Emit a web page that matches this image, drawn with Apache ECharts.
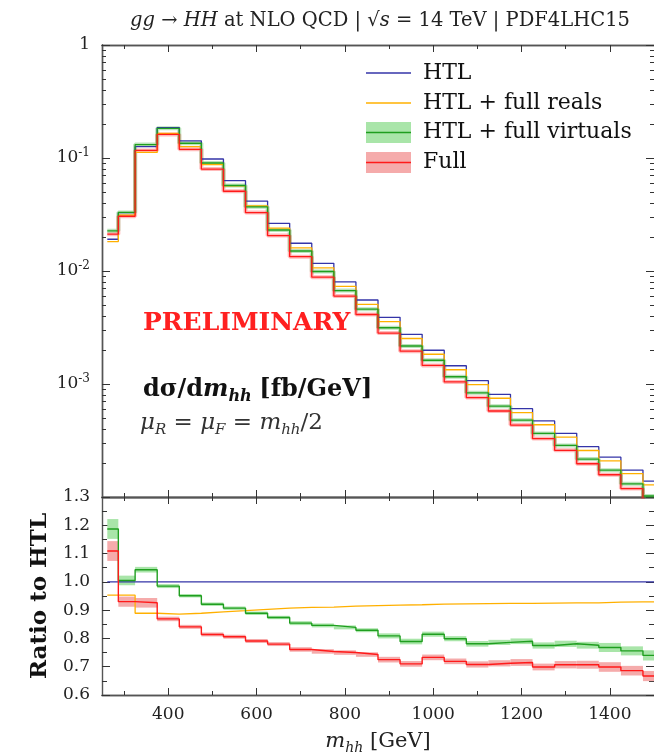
<!DOCTYPE html>
<html><head><meta charset="utf-8">
<script src="https://cdn.jsdelivr.net/npm/echarts@6/dist/echarts.min.js"></script>
<style>html,body{margin:0;padding:0;background:#fff}#c{width:654px;height:756px}</style>
</head><body><div id="c"></div>
<script>
// ---------------- data ----------------
const binEdges = [262,287,325,375,425,475,525,575,625,675,725,775,825,875,925,975,1025,1075,1125,1175,1225,1275,1325,1375,1425,1475,1525];
const htl = [0.0191,0.0328,0.126,0.186,0.142,0.098,0.063,0.0416,0.0264,0.0176,0.0117,0.0080,0.00554,0.00389,0.00275,0.00199,0.00145,0.00107,0.00081,0.000605,0.000471,0.000366,0.000279,0.000225,0.000173,0.000138];
const htlReals = [0.0182,0.03126,0.1120,0.1648,0.1262,0.0876,0.0566,0.0376,0.02394,0.01602,0.01066,0.00731,0.00507,0.00357,0.002527,0.001833,0.001337,0.000988,0.000748,0.000559,0.000436,0.000339,0.000258,0.000209,0.0001607,0.0001282];
const htlVirtuals = [0.02267,0.03296,0.1314,0.1832,0.1350,0.0903,0.0571,0.0370,0.02307,0.01503,0.00990,0.00671,0.00459,0.003147,0.002170,0.001622,0.001159,0.000836,0.000637,0.000478,0.000365,0.000286,0.0002165,0.0001728,0.0001308,0.0001021];
const full = [0.02118,0.03050,0.1167,0.1616,0.1194,0.0798,0.0508,0.0329,0.02059,0.01339,0.00882,0.00600,0.00412,0.00282,0.001953,0.001459,0.001043,0.000758,0.000577,0.000433,0.000329,0.000259,0.000197,0.0001573,0.0001187,0.0000920];

const ratioHTL = [1,1,1,1,1,1,1,1,1,1,1,1,1,1,1,1,1,1,1,1,1,1,1,1,1,1];
const ratioReals = [0.953,0.953,0.889,0.886,0.889,0.894,0.898,0.903,0.907,0.910,0.911,0.914,0.916,0.918,0.919,0.921,0.922,0.923,0.924,0.924,0.925,0.926,0.926,0.928,0.929,0.929];
const ratioVirtuals = [1.187,1.005,1.043,0.985,0.951,0.921,0.907,0.889,0.874,0.854,0.846,0.839,0.829,0.809,0.789,0.815,0.799,0.781,0.786,0.790,0.775,0.781,0.776,0.768,0.756,0.740];
const ratioFull = [1.109,0.930,0.926,0.869,0.841,0.814,0.806,0.791,0.780,0.761,0.754,0.750,0.743,0.725,0.710,0.733,0.719,0.708,0.712,0.715,0.699,0.707,0.707,0.699,0.686,0.667];
const virtualsErr = [0.035,0.017,0.010,0.007,0.006,0.006,0.006,0.006,0.006,0.007,0.007,0.007,0.007,0.009,0.010,0.009,0.009,0.010,0.009,0.010,0.011,0.011,0.012,0.016,0.016,0.018];
const fullErr = [0.035,0.018,0.017,0.008,0.007,0.007,0.007,0.007,0.007,0.008,0.008,0.008,0.008,0.010,0.010,0.010,0.010,0.011,0.011,0.012,0.012,0.013,0.014,0.017,0.017,0.018];

// tick values / labels
const xMajorTicks = [400,600,800,1000,1200,1400];
const xMinorTicks = [300,500,700,900,1100,1300,1500];
const logMajorTicks = [1e-4,1e-3,1e-2,1e-1,1];
const logLabelTicks = [1e-3,1e-2,1e-1,1];
const logMinorMultipliers = [2,3,4,5,6,7,8,9];
const logDecades = [1e-4,1e-3,1e-2,1e-1];

// ---------------- styling ----------------
const F = '"DejaVu Serif", serif';
const C = {blue:'#3434a8', orange:'#ffb000', green:'#1f9e1f', greenBand:'#a9e5a9', red:'#ff1a1a', redBand:'#f5abab'};
const AX = {color:'#555', width:1.4};
const TK = {color:'#333', width:1};

const logMinorTicks = [];
logDecades.forEach(d => logMinorMultipliers.forEach(m => logMinorTicks.push(m*d)));

function steps(vals){
  const d = [];
  vals.forEach((v,i) => { d.push([binEdges[i], v]); d.push([binEdges[i+1], v]); });
  return d;
}
function stepLine(name, vals, color, width, xi, yi, z, opacity){
  return {type:'line', name, data:steps(vals), xAxisIndex:xi, yAxisIndex:yi, symbol:'none',
    clip:true, silent:true, z:z||3, animation:false,
    lineStyle:{color, width, opacity: opacity==null?1:opacity}};
}
function band(center, err, color, xi, yi){
  return {type:'custom', xAxisIndex:xi, yAxisIndex:yi, silent:true, z:1, animation:false,
    data: center.map((c,i) => [binEdges[i], binEdges[i+1], c-err[i], c+err[i]]),
    encode:{x:[0,1], y:[2,3]},
    renderItem(params, api){
      const p0 = api.coord([api.value(0), api.value(3)]);
      const p1 = api.coord([api.value(1), api.value(2)]);
      const cs = params.coordSys;
      const r = echarts.graphic.clipRectByRect(
        {x:p0[0], y:p0[1], width:p1[0]-p0[0], height:p1[1]-p0[1]},
        {x:cs.x, y:cs.y, width:cs.width, height:cs.height});
      if (!r) return;
      return {type:'rect', shape:r, style:{fill:color}};
    }};
}
function xa(grid, pos, ticks, len, extra){
  return Object.assign({type:'value', gridIndex:grid, position:pos, min:250, max:1500,
    axisLine:{show:true, onZero:false, lineStyle:AX},
    axisTick:{show:true, inside:true, length:len, customValues:ticks, lineStyle:TK},
    axisLabel:{show:false}, splitLine:{show:false}}, extra||{});
}
function ya(grid, pos, type, extra){
  const base = {type, gridIndex:grid, position:pos,
    axisLine:{show:true, onZero:false, lineStyle:AX},
    axisLabel:{show:false}, splitLine:{show:false}};
  return Object.assign(base, extra);
}

const labelRich = {
  b:{fontFamily:F, fontSize:17, color:'#222', lineHeight:22},
  s:{fontFamily:F, fontSize:12, color:'#222', lineHeight:11, verticalAlign:'top'}
};

const option = {
  animation:false,
  backgroundColor:'#fff',
  grid:[{left:102, right:0, top:45, height:452}, {left:102, right:0, top:497, height:200}],
  xAxis:[
    xa(0,'bottom',xMajorTicks,7),
    xa(0,'bottom',xMinorTicks,4),
    xa(0,'top',xMajorTicks,7),
    xa(0,'top',xMinorTicks,4),
    xa(1,'bottom',xMajorTicks,7,{
      axisLabel:{show:true, customValues:xMajorTicks, fontFamily:F, fontSize:17, color:'#222', margin:11,
        formatter: v => String(v)},
      name:'{i|m}{s|hh} [GeV]', nameLocation:'middle', nameGap:34,
      nameTextStyle:{fontFamily:F, fontSize:21, color:'#222', lineHeight:26,
        rich:{i:{fontFamily:F, fontSize:21, fontStyle:'italic', color:'#222', lineHeight:26},
              s:{fontFamily:F, fontSize:14, fontStyle:'italic', color:'#222', lineHeight:13, verticalAlign:'bottom'}}}
    }),
    xa(1,'bottom',xMinorTicks,4),
    xa(1,'top',xMajorTicks,7),
    xa(1,'top',xMinorTicks,4)
  ],
  yAxis:[
    ya(0,'left','log',{min:1e-4, max:1, logBase:10,
      axisTick:{show:true, inside:true, length:8, customValues:logMajorTicks, lineStyle:TK},
      axisLabel:{show:true, customValues:logLabelTicks, margin:12, fontFamily:F, fontSize:17, color:'#222',
        formatter: v => (Math.abs(v-1)<1e-9 ? '{b|1}' : '{b|10}{s|' + Math.round(Math.log10(v)) + '}'),
        rich:labelRich}}),
    ya(0,'left','log',{min:1e-4, max:1, logBase:10,
      axisTick:{show:true, inside:true, length:4, customValues:logMinorTicks, lineStyle:TK}}),
    ya(0,'right','log',{min:1e-4, max:1, logBase:10, axisLine:{show:false},
      axisTick:{show:true, inside:true, length:8, customValues:logMajorTicks, lineStyle:TK}}),
    ya(0,'right','log',{min:1e-4, max:1, logBase:10, axisLine:{show:false},
      axisTick:{show:true, inside:true, length:4, customValues:logMinorTicks, lineStyle:TK}}),
    ya(1,'left','value',{min:0.6, max:1.3, interval:0.1,
      axisTick:{show:true, inside:true, length:8, lineStyle:TK},
      minorTick:{show:true, splitNumber:2, length:5, lineStyle:TK},
      axisLabel:{show:true, margin:12, fontFamily:F, fontSize:17, color:'#222', formatter: v => v.toFixed(1)},
      name:'Ratio to HTL', nameLocation:'middle', nameGap:50, nameRotate:90,
      nameTextStyle:{fontFamily:F, fontSize:23, fontWeight:'bold', color:'#111'}}),
    ya(1,'right','value',{min:0.6, max:1.3, interval:0.1, axisLine:{show:false},
      axisTick:{show:true, inside:true, length:8, lineStyle:TK},
      minorTick:{show:true, splitNumber:2, length:5, lineStyle:TK}})
  ],
  series:[
    // top panel
    stepLine('Full halo', full, C.red, 4, 0, 0, 2, 0.3),
    stepLine('Virtuals halo', htlVirtuals, C.green, 4, 0, 0, 2, 0.3),
    stepLine('HTL', htl, C.blue, 1.3, 0, 0, 3),
    stepLine('HTL + full reals', htlReals, C.orange, 1.3, 0, 0, 3),
    stepLine('HTL + full virtuals', htlVirtuals, C.green, 1.3, 0, 0, 4),
    stepLine('Full', full, C.red, 1.3, 0, 0, 4),
    // ratio panel
    band(ratioVirtuals, virtualsErr, C.greenBand, 4, 4),
    band(ratioFull, fullErr, C.redBand, 4, 4),
    stepLine('HTL r', ratioHTL, C.blue, 1.3, 4, 4, 3),
    stepLine('reals r', ratioReals, C.orange, 1.3, 4, 4, 3),
    stepLine('virtuals r', ratioVirtuals, C.green, 1.4, 4, 4, 4),
    stepLine('full r', ratioFull, C.red, 1.4, 4, 4, 4)
  ],
  graphic:[
    {type:'text', x:380, y:21, style:{
      text:'{i|gg} → {i|HH} at NLO QCD | √{i|s} = 14 TeV | PDF4LHC15',
      fontFamily:F, fontSize:19.5, fill:'#222', lineHeight:24, align:'center', verticalAlign:'middle',
      rich:{i:{fontFamily:F, fontSize:19.5, fontStyle:'italic', fill:'#222', lineHeight:24}}}},
    // legend
    {type:'line', shape:{x1:366, y1:73, x2:411, y2:73}, style:{stroke:C.blue, lineWidth:1.3}},
    {type:'line', shape:{x1:366, y1:103, x2:411, y2:103}, style:{stroke:C.orange, lineWidth:1.3}},
    {type:'rect', shape:{x:366, y:122, width:45, height:21}, style:{fill:C.greenBand}},
    {type:'line', shape:{x1:366, y1:132.5, x2:411, y2:132.5}, style:{stroke:C.green, lineWidth:1.4}},
    {type:'rect', shape:{x:366, y:152, width:45, height:21}, style:{fill:C.redBand}},
    {type:'line', shape:{x1:366, y1:162.5, x2:411, y2:162.5}, style:{stroke:C.red, lineWidth:1.4}},
    {type:'text', x:423, y:73, style:{text:'HTL', fontFamily:F, fontSize:22, fill:'#111', verticalAlign:'middle'}},
    {type:'text', x:423, y:103, style:{text:'HTL + full reals', fontFamily:F, fontSize:22, fill:'#111', verticalAlign:'middle'}},
    {type:'text', x:423, y:132, style:{text:'HTL + full virtuals', fontFamily:F, fontSize:22, fill:'#111', verticalAlign:'middle'}},
    {type:'text', x:423, y:162, style:{text:'Full', fontFamily:F, fontSize:22, fill:'#111', verticalAlign:'middle'}},
    // annotations
    {type:'text', x:143, y:323, style:{text:'PRELIMINARY', fontFamily:F, fontSize:25, fontWeight:'bold', fill:'#ff2020', verticalAlign:'middle'}},
    {type:'text', x:143, y:390, style:{
      text:'{b|dσ/d}{bi|m}{bs|hh} {b|[fb/GeV]}', fontFamily:F, fontSize:24, fill:'#111', verticalAlign:'middle', lineHeight:30,
      rich:{b:{fontFamily:F, fontSize:24, fontWeight:'bold', fill:'#111', lineHeight:30},
            bi:{fontFamily:F, fontSize:24, fontWeight:'bold', fontStyle:'italic', fill:'#111', lineHeight:30},
            bs:{fontFamily:F, fontSize:16, fontWeight:'bold', fontStyle:'italic', fill:'#111', lineHeight:15, verticalAlign:'bottom'}}}},
    {type:'text', x:140, y:423, style:{
      text:'{i|μ}{s|R} = {i|μ}{s|F} = {i|m}{s|hh}/2', fontFamily:F, fontSize:23, fill:'#333', verticalAlign:'middle', lineHeight:30,
      rich:{i:{fontFamily:F, fontSize:23, fontStyle:'italic', fill:'#333', lineHeight:30},
            s:{fontFamily:F, fontSize:15, fontStyle:'italic', fill:'#333', lineHeight:14, verticalAlign:'bottom'}}}}
  ]
};
const chart = echarts.init(document.getElementById('c'), null, {renderer:'canvas'});
chart.setOption(option);
</script></body></html>
